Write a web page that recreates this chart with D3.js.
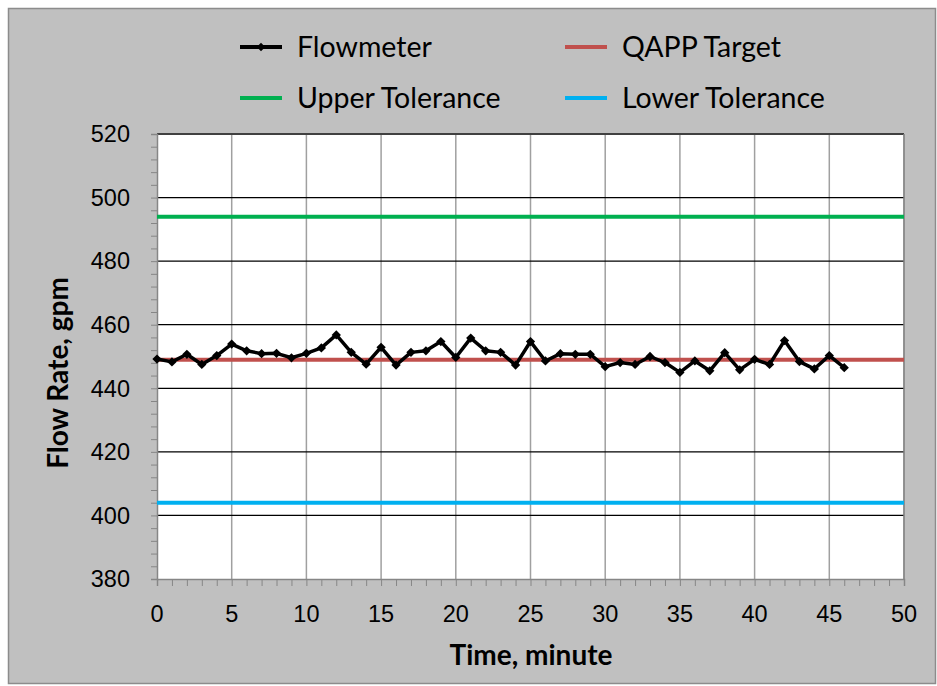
<!DOCTYPE html>
<html><head><meta charset="utf-8">
<script src="https://cdn.jsdelivr.net/npm/d3@7"></script>
<style>body{margin:0;background:#fff;}svg{display:block;font-family:Lato,"Open Sans",sans-serif;}</style>
</head><body>
<svg id="c" width="937" height="686"></svg>
<script>
const times = d3.range(0, 47);
const flowmeter = [449.2,448.3,450.7,447.5,450.3,453.9,451.8,450.9,451.0,449.6,451.0,452.7,456.8,451.3,447.6,452.9,447.3,451.3,451.8,454.7,449.7,455.8,451.8,451.3,447.3,454.7,448.6,450.9,450.7,450.7,446.8,448.1,447.5,450.0,448.1,445.0,448.6,445.5,451.2,445.8,449.1,447.5,455.0,448.4,446.1,450.3,446.5];
const qappTarget = 449;
const upperTol = 494;
const lowerTol = 404;
const xTicks = [0,5,10,15,20,25,30,35,40,45,50];
const yTicks = [380,400,420,440,460,480,500,520];
const legendLabels = ["Flowmeter","QAPP Target","Upper Tolerance","Lower Tolerance"];
const legendColors = ["#000000","#C0504D","#00B050","#00B0F0"];

const svg = d3.select("#c");
svg.append("rect").attr("x",8.5).attr("y",8.5).attr("width",927).attr("height",675)
  .attr("fill","#C0C0C0").attr("stroke","#8C8C8C").attr("stroke-width",1.5);

const L=157, R=904, T=134, B=579;
const x = d3.scaleLinear().domain([0,50]).range([L,R]);
const y = d3.scaleLinear().domain([380,520]).range([B,T]);

svg.append("rect").attr("x",L).attr("y",T).attr("width",R-L).attr("height",B-T).attr("fill","#fff");

// vertical gridlines
svg.append("g").selectAll("line").data(xTicks.slice(1)).join("line")
  .attr("x1",d=>x(d)).attr("x2",d=>x(d)).attr("y1",T).attr("y2",B)
  .attr("stroke","#A0A0A0").attr("stroke-width",1.5);
// horizontal gridlines
svg.append("g").selectAll("line").data(yTicks.slice(1)).join("line")
  .attr("x1",L).attr("x2",R).attr("y1",d=>y(d)).attr("y2",d=>y(d))
  .attr("stroke",d=>d===520?"#404040":"#000").attr("stroke-width",d=>d===520?2:1.3);

// y axis
const yAxis = d3.axisLeft(y).tickValues(d3.range(380,521,4)).tickSize(6).tickFormat("");
const gy = svg.append("g").attr("transform",`translate(${L},0)`).call(yAxis);
gy.selectAll("line").attr("stroke","#868686");
gy.select(".domain").attr("stroke","#868686").attr("stroke-width",1.5);
gy.append("g").selectAll("text").data(yTicks).join("text")
  .attr("x",-27).attr("y",d=>y(d)).attr("dy","0.35em").attr("text-anchor","end")
  .attr("fill","#000").attr("font-size",23.5).text(d=>d);

// x axis
const xAxis = d3.axisBottom(x).tickValues(d3.range(0,51,1)).tickSize(7).tickFormat("");
const gx = svg.append("g").attr("transform",`translate(0,${B})`).call(xAxis);
gx.selectAll("line").attr("stroke","#868686");
gx.select(".domain").attr("stroke","#868686").attr("stroke-width",1.5);
gx.append("g").selectAll("text").data(xTicks).join("text")
  .attr("x",d=>x(d)).attr("y",35).attr("dy","0.35em").attr("text-anchor","middle")
  .attr("fill","#000").attr("font-size",23.5).text(d=>d);

// right border
svg.append("line").attr("x1",R).attr("x2",R).attr("y1",T).attr("y2",B).attr("stroke","#868686").attr("stroke-width",1.5);

// tolerance lines
const hl = [[upperTol,legendColors[2]],[lowerTol,legendColors[3]],[qappTarget,legendColors[1]]];
svg.append("g").selectAll("line").data(hl).join("line")
  .attr("x1",L).attr("x2",R).attr("y1",d=>y(d[0])).attr("y2",d=>y(d[0]))
  .attr("stroke",d=>d[1]).attr("stroke-width",4);

// flowmeter line
const data = times.map((t,i)=>({t, v:flowmeter[i]}));
svg.append("path").datum(data)
  .attr("d",d3.line().x(d=>x(d.t)).y(d=>y(d.v)))
  .attr("fill","none").attr("stroke","#000").attr("stroke-width",3.5).attr("stroke-linejoin","round");
svg.append("g").selectAll("path").data(data).join("path")
  .attr("transform",d=>`translate(${x(d.t)},${y(d.v)})`)
  .attr("d",d3.symbol(d3.symbolDiamond2,55)).attr("fill","#000");

// axis titles
svg.append("text").attr("x",531).attr("y",655).attr("dy","0.35em").attr("text-anchor","middle")
  .attr("font-weight","bold").attr("font-size",28).text("Time, minute");
svg.append("text").attr("transform","translate(58,373) rotate(-90)").attr("dy","0.35em").attr("text-anchor","middle")
  .attr("font-weight","bold").attr("font-size",28).text("Flow Rate, gpm");

// legend
const lg = [{i:0,lx:240,ly:47},{i:1,lx:565,ly:47},{i:2,lx:240,ly:98},{i:3,lx:565,ly:98}];
const lgG = svg.append("g");
lg.forEach(o=>{
  lgG.append("line").attr("x1",o.lx).attr("x2",o.lx+42).attr("y1",o.ly).attr("y2",o.ly)
    .attr("stroke",legendColors[o.i]).attr("stroke-width",4);
  if(o.i===0) lgG.append("path").attr("transform",`translate(${o.lx+21},${o.ly})`)
    .attr("d",d3.symbol(d3.symbolDiamond2,45)).attr("fill","#000");
  lgG.append("text").attr("x",o.lx+57).attr("y",o.ly).attr("dy","0.35em")
    .attr("font-size",28.5).attr("fill","#000").text(legendLabels[o.i]);
});
</script>
</body></html>
